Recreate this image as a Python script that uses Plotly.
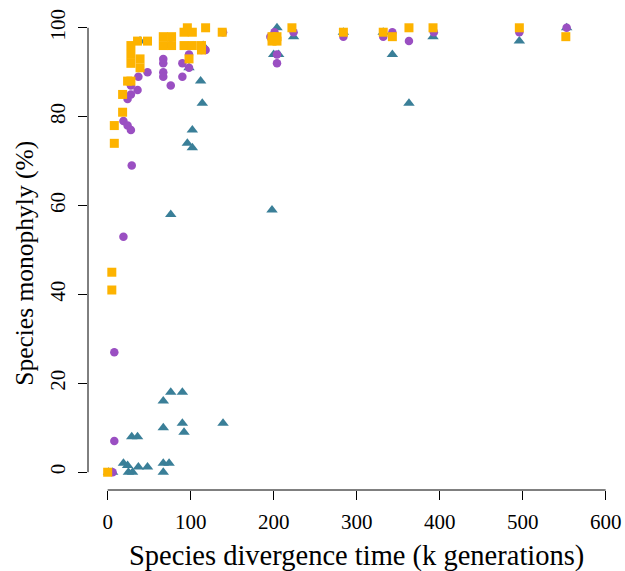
import plotly.graph_objects as go

# purple circles
circ_x = [6, 8, 8, 19, 29, 19, 24, 28, 24, 28, 36, 28, 37, 48, 67, 67, 67, 67, 76, 76,
          90, 90, 98, 98, 113, 118, 139, 196, 201, 204, 204, 224, 284, 332, 343, 363, 393, 496, 553]
circ_y = [0, 7, 27, 53, 69, 79, 78, 77, 84, 85, 86, 87, 89, 90, 93, 92, 90, 89, 87, 96,
          92, 89, 94, 91, 95, 95, 99, 98, 99, 94, 92, 99, 98, 98, 99, 97, 99, 99, 100]

# teal triangles
tri_x = [1, 6, 19, 24, 25, 30, 37, 48, 29, 36, 67, 74, 67, 67, 67, 76, 90, 90, 92, 139,
         76, 198, 39, 98, 96, 102, 102, 112, 114, 115, 200, 206, 204, 224, 284, 332, 343,
         363, 392, 496, 553]
tri_y = [0, 0, 2, 1.5, 0, 0, 1.2, 1.2, 8, 8, 2, 2, 0, 10, 16, 18, 18, 11, 9, 11,
         58, 59, 97, 91, 74, 73, 77, 88, 83, 96, 94, 94, 100, 98, 99, 99, 94,
         83, 98, 97, 100]

# orange squares
sq_x = [0, 5, 5, 8, 8, 18, 18, 24, 28, 28, 28, 28, 39, 39, 36, 48, 67, 67, 77, 77,
        92, 92, 96, 98, 102, 102, 113, 113, 118, 138, 198, 198, 204, 204, 222, 284,
        332, 343, 363, 392, 496, 552]
sq_y = [0, 45, 41, 78, 74, 85, 81, 88, 88, 96, 94, 92, 93, 91, 97, 97, 98, 96, 98, 96,
        99, 96, 100, 93, 99, 96, 96, 95, 100, 99, 98, 97, 98, 97, 100, 99,
        99, 98, 100, 100, 100, 98]

x_ticks = [0, 100, 200, 300, 400, 500, 600]
y_ticks = [0, 20, 40, 60, 80, 100]

FONT = "Liberation Serif"

fig = go.Figure()
fig.add_trace(go.Scatter(x=tri_x, y=tri_y, mode="markers",
                         marker=dict(symbol="triangle-up", size=10, color="#3A7F98", line=dict(width=0))))
fig.add_trace(go.Scatter(x=circ_x, y=circ_y, mode="markers",
                         marker=dict(symbol="circle", size=8.5, color="#9A4FC2", line=dict(width=0))))
fig.add_trace(go.Scatter(x=sq_x, y=sq_y, mode="markers",
                         marker=dict(symbol="square", size=9, color="#FDB300", line=dict(width=0))))

fig.update_layout(
    width=625, height=571,
    margin=dict(l=88, r=0, t=9.5, b=80.5),
    paper_bgcolor="white", plot_bgcolor="white",
    showlegend=False,
    font=dict(family=FONT, size=21, color="black"),
    xaxis=dict(range=[-23.7, 623.3], tickvals=x_ticks, ticktext=[str(v) for v in x_ticks],
               ticks="outside", ticklen=9, tickwidth=1, tickcolor="black",
               showgrid=False, zeroline=False, showline=False, ticklabelstandoff=4),
    yaxis=dict(range=[-4, 104], tickvals=y_ticks, ticktext=[str(v) for v in y_ticks],
               ticks="outside", ticklen=9, tickwidth=1, tickcolor="black", tickangle=-90,
               showgrid=False, zeroline=False, showline=False, ticklabelstandoff=5),
    shapes=[
        dict(type="line", xref="x", yref="paper", x0=0, x1=600, y0=0, y1=0,
             line=dict(color="black", width=1)),
        dict(type="line", xref="paper", yref="y", x0=0, x1=0, y0=0, y1=100,
             line=dict(color="black", width=1)),
    ],
    annotations=[
        dict(text="Species divergence time (k generations)", xref="x", yref="paper",
             x=300, y=0, yanchor="middle", xanchor="center", yshift=-65.5, showarrow=False,
             font=dict(family=FONT, size=28.5)),
        dict(text="Species monophyly (%)", xref="paper", yref="y", x=0, y=46.9,
             xanchor="center", yanchor="middle", xshift=-63, textangle=-90, showarrow=False,
             font=dict(family=FONT, size=25.5)),
    ],
)

fig.write_html("out.html")
